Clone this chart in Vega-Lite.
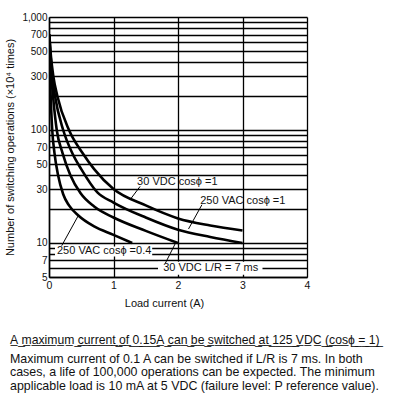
{
  "$schema": "https://vega.github.io/schema/vega-lite/v6.json",
  "width": 258,
  "height": 260,
  "autosize": {"type": "none"},
  "padding": {"left": 49, "top": 17, "right": 92, "bottom": 127},
  "background": "white",
  "config": {
    "font": "Liberation Sans",
    "view": {"stroke": null}
  },
  "title": {
    "text": "A̲ ̲m̲a̲x̲i̲m̲u̲m̲ ̲c̲u̲r̲r̲e̲n̲t̲ ̲o̲f̲ ̲0̲.̲1̲5̲A̲ ̲c̲a̲n̲ ̲b̲e̲ ̲s̲w̲i̲t̲c̲h̲e̲d̲ ̲a̲t̲ ̲1̲2̲5̲ ̲V̲D̲C̲ ̲(̲c̲o̲s̲ϕ̲ ̲=̲ ̲1̲)̲",
    "subtitle": [
      "Maximum current of 0.1 A can be switched if L/R is 7 ms. In both",
      "cases, a life of 100,000 operations can be expected. The minimum",
      "applicable load is 10 mA at 5 VDC (failure level: P reference value)."
    ],
    "orient": "bottom",
    "anchor": "start",
    "frame": "group",
    "dx": -39,
    "offset": 25,
    "font": "Liberation Sans",
    "fontSize": 12.2,
    "fontWeight": "normal",
    "color": "#111",
    "subtitleFont": "Liberation Sans",
    "subtitleFontSize": 12.4,
    "subtitleColor": "#111",
    "subtitleLineHeight": 13.7,
    "subtitlePadding": 7
  },
  "datasets": {
    "curves": [
      {"series": "250 VAC cos0.4", "x": 0.002, "y": 700},
      {"series": "250 VAC cos0.4", "x": 0.008, "y": 450},
      {"series": "250 VAC cos0.4", "x": 0.016, "y": 300},
      {"series": "250 VAC cos0.4", "x": 0.026, "y": 200},
      {"series": "250 VAC cos0.4", "x": 0.05, "y": 100},
      {"series": "250 VAC cos0.4", "x": 0.085, "y": 62.5},
      {"series": "250 VAC cos0.4", "x": 0.14, "y": 40},
      {"series": "250 VAC cos0.4", "x": 0.22, "y": 27},
      {"series": "250 VAC cos0.4", "x": 0.31, "y": 21.5},
      {"series": "250 VAC cos0.4", "x": 0.455, "y": 17.5},
      {"series": "250 VAC cos0.4", "x": 0.7, "y": 14},
      {"series": "250 VAC cos0.4", "x": 1.0, "y": 11.8},
      {"series": "250 VAC cos0.4", "x": 1.29, "y": 10},
      {"series": "30 VDC L/R", "x": 0.003, "y": 700},
      {"series": "30 VDC L/R", "x": 0.018, "y": 450},
      {"series": "30 VDC L/R", "x": 0.036, "y": 300},
      {"series": "30 VDC L/R", "x": 0.062, "y": 200},
      {"series": "30 VDC L/R", "x": 0.12, "y": 100},
      {"series": "30 VDC L/R", "x": 0.21, "y": 62.5},
      {"series": "30 VDC L/R", "x": 0.33, "y": 40},
      {"series": "30 VDC L/R", "x": 0.49, "y": 27.5},
      {"series": "30 VDC L/R", "x": 0.7, "y": 21},
      {"series": "30 VDC L/R", "x": 1.0, "y": 16.8},
      {"series": "30 VDC L/R", "x": 1.5, "y": 12.8},
      {"series": "30 VDC L/R", "x": 2.0, "y": 10},
      {"series": "250 VAC cos1", "x": 0.004, "y": 700},
      {"series": "250 VAC cos1", "x": 0.025, "y": 450},
      {"series": "250 VAC cos1", "x": 0.05, "y": 300},
      {"series": "250 VAC cos1", "x": 0.093, "y": 200},
      {"series": "250 VAC cos1", "x": 0.22, "y": 100},
      {"series": "250 VAC cos1", "x": 0.36, "y": 62.5},
      {"series": "250 VAC cos1", "x": 0.5, "y": 45},
      {"series": "250 VAC cos1", "x": 0.75, "y": 28},
      {"series": "250 VAC cos1", "x": 1.0, "y": 22.8},
      {"series": "250 VAC cos1", "x": 1.5, "y": 16.8},
      {"series": "250 VAC cos1", "x": 2.0, "y": 13.1},
      {"series": "250 VAC cos1", "x": 2.5, "y": 11.3},
      {"series": "250 VAC cos1", "x": 3.0, "y": 10},
      {"series": "30 VDC cos1", "x": 0.005, "y": 700},
      {"series": "30 VDC cos1", "x": 0.03, "y": 450},
      {"series": "30 VDC cos1", "x": 0.067, "y": 300},
      {"series": "30 VDC cos1", "x": 0.129, "y": 200},
      {"series": "30 VDC cos1", "x": 0.31, "y": 100},
      {"series": "30 VDC cos1", "x": 0.52, "y": 62.5},
      {"series": "30 VDC cos1", "x": 0.7, "y": 45},
      {"series": "30 VDC cos1", "x": 1.0, "y": 30},
      {"series": "30 VDC cos1", "x": 1.5, "y": 21.5},
      {"series": "30 VDC cos1", "x": 2.0, "y": 16.5},
      {"series": "30 VDC cos1", "x": 2.5, "y": 14.3},
      {"series": "30 VDC cos1", "x": 3.0, "y": 12.9}
    ],
    "boxes": [
      {"x": 0.093, "x2": 1.6, "y": 9.33, "y2": 7.61},
      {"x": 1.69, "x2": 3.31, "y": 6.83, "y2": 5.24}
    ],
    "leaders": [
      {"x": 1.413, "y": 31.7, "x2": 1.258, "y2": 24.2},
      {"x": 2.371, "y": 21.8, "x2": 2.163, "y2": 13.3},
      {"x": 0.197, "y": 9.46, "x2": 0.455, "y2": 17.5},
      {"x": 1.80, "y": 6.56, "x2": 1.957, "y2": 9.86}
    ],
    "labels": [
      {"x": 1.366, "y": 34.4, "text": "30 VDC  cosϕ =1"},
      {"x": 2.345, "y": 23.3, "text": "250 VAC  cosϕ =1"},
      {"x": 0.124, "y": 8.43, "text": "250 VAC  cosϕ =0.4"},
      {"x": 1.77, "y": 6.0, "text": "30 VDC L/R = 7 ms"}
    ]
  },
  "layer": [
    {
      "data": {"name": "curves"},
      "mark": {"type": "line", "color": "black", "strokeWidth": 2.6, "interpolate": "monotone", "clip": true},
      "encoding": {
        "x": {
          "field": "x", "type": "quantitative",
          "scale": {"domain": [0, 4], "nice": false, "zero": false},
          "axis": {
            "values": [0, 1, 2, 3, 4],
            "format": "d",
            "title": "Load current (A)",
            "titleFont": "Liberation Sans",
            "titleFontSize": 11,
            "titleFontWeight": "normal",
            "titleColor": "#111",
            "titleX": 115,
            "titlePadding": 7,
            "labelFont": "Liberation Sans",
            "labelFontSize": 10.5,
            "labelColor": "#111",
            "labelPadding": 3,
            "labelBound": false,
            "labelFlush": false,
            "ticks": false,
            "domainColor": "black",
            "domainWidth": 1.3,
            "grid": true,
            "gridColor": "black",
            "gridWidth": 1.3,
            "gridOpacity": 1
          }
        },
        "y": {
          "field": "y", "type": "quantitative",
          "scale": {"type": "log", "domain": [5, 1000], "nice": false},
          "axis": {
            "values": [5, 6, 7, 8, 9, 10, 20, 30, 40, 50, 60, 70, 80, 90, 100, 200, 300, 400, 500, 600, 700, 800, 900, 1000],
            "labelExpr": "indexof([5,7,10,30,50,70,100,300,500,700,1000], datum.value) >= 0 ? format(datum.value, ',') : ''",
            "title": "Number of switching operations (×10⁴ times)",
            "titleFont": "Liberation Sans",
            "titleFontSize": 11,
            "titleFontWeight": "normal",
            "titleColor": "#111",
            "titlePadding": 6,
            "labelFont": "Liberation Sans",
            "labelFontSize": 10,
            "labelColor": "#111",
            "labelPadding": 2,
            "labelBound": false,
            "labelOverlap": false,
            "ticks": false,
            "domainColor": "black",
            "domainWidth": 1.5,
            "grid": true,
            "gridColor": "black",
            "gridWidth": 1.3,
            "gridOpacity": 1
          }
        },
        "detail": {"field": "series"}
      }
    },
    {
      "data": {"name": "boxes"},
      "mark": {"type": "rect", "color": "white"},
      "encoding": {
        "x": {"field": "x", "type": "quantitative"},
        "x2": {"field": "x2"},
        "y": {"field": "y", "type": "quantitative"},
        "y2": {"field": "y2"}
      }
    },
    {
      "data": {"name": "leaders"},
      "mark": {"type": "rule", "color": "black", "strokeWidth": 1},
      "encoding": {
        "x": {"field": "x", "type": "quantitative"},
        "x2": {"field": "x2"},
        "y": {"field": "y", "type": "quantitative"},
        "y2": {"field": "y2"}
      }
    },
    {
      "data": {"name": "labels"},
      "mark": {"type": "text", "align": "left", "baseline": "middle", "font": "Liberation Sans", "fontSize": 11, "color": "#111"},
      "encoding": {
        "x": {"field": "x", "type": "quantitative"},
        "y": {"field": "y", "type": "quantitative"},
        "text": {"field": "text"}
      }
    }
  ]
}
